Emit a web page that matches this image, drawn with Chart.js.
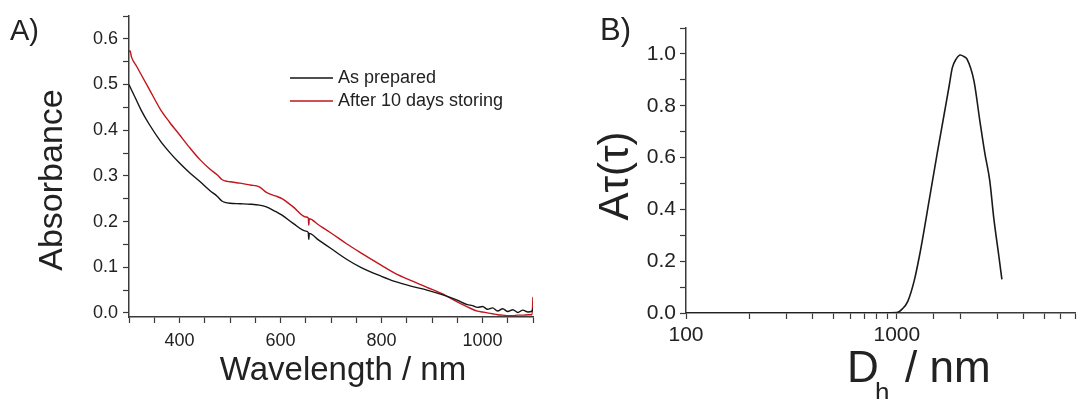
<!DOCTYPE html>
<html>
<head>
<meta charset="utf-8">
<script src="https://cdn.jsdelivr.net/npm/chart.js@4"></script>
<style>
    body { margin: 0; background: #fff; width: 1079px; height: 399px; overflow: hidden; position: relative; }
    canvas { position: absolute; top: 0; }
    #uvChart { left: 0; }
    #dlsChart { left: 540px; }
</style>
</head>
<body>
<canvas id="uvChart" width="540" height="399"></canvas>
<canvas id="dlsChart" width="539" height="399"></canvas>
<script>
// A) 흡광 스펙트럼 데이터
const wavelength = [300, 302, 305, 315, 324, 340, 363, 380, 400, 420, 441, 460, 475, 484, 490, 500, 520, 540, 558, 572, 590, 603, 625, 650, 655, 656, 657, 675, 700, 730, 760, 800, 826, 860, 890, 920, 950, 970, 980, 990, 1000, 1010, 1020, 1030, 1040, 1050, 1060, 1070, 1080, 1090, 1098, 1100];
const asPrepared = [0.500, 0.495, 0.488, 0.465, 0.444, 0.413, 0.375, 0.352, 0.328, 0.307, 0.287, 0.268, 0.255, 0.245, 0.242, 0.240, 0.239, 0.238, 0.236, 0.232, 0.222, 0.214, 0.196, 0.179, 0.176, 0.161, 0.174, 0.160, 0.141, 0.118, 0.099, 0.080, 0.069, 0.058, 0.050, 0.040, 0.028, 0.018, 0.016, 0.012, 0.014, 0.008, 0.011, 0.004, 0.009, 0.003, 0.007, 0.001, 0.006, 0.002, 0.004, 0.010];
const afterStoring = [0.571, 0.574, 0.560, 0.540, 0.522, 0.490, 0.444, 0.418, 0.390, 0.362, 0.335, 0.315, 0.302, 0.292, 0.289, 0.287, 0.284, 0.280, 0.276, 0.264, 0.256, 0.250, 0.232, 0.210, 0.208, 0.192, 0.206, 0.193, 0.175, 0.152, 0.131, 0.104, 0.087, 0.070, 0.056, 0.042, 0.024, 0.013, 0.008, 0.004, 0.002, 0.000, -0.002, -0.004, -0.005, -0.006, -0.006, -0.005, -0.005, -0.004, -0.004, 0.035];
const uvLabels = ['As prepared', 'After 10 days storing'];

// B) DLS 분포 데이터
const diameter = [100, 200, 400, 700, 1000, 1060, 1127, 1211, 1280, 1347, 1410, 1476, 1557, 1679, 1774, 1832, 1911, 2000, 2080, 2153, 2322, 2478, 2617, 2760, 2884, 3047, 3150];
const amplitude = [0, 0, 0, 0, 0.002, 0.015, 0.045, 0.127, 0.22, 0.32, 0.415, 0.51, 0.62, 0.77, 0.88, 0.946, 0.98, 0.996, 0.99, 0.98, 0.896, 0.74, 0.615, 0.51, 0.365, 0.22, 0.13];

const axisColor = '#3a3a3a';
const textColor = '#222';
const fontFamily = '"Liberation Sans", Arial, sans-serif';

function toPoints(xs, ys) {
    return xs.map((x, i) => ({ x: x, y: ys[i] }));
}

// 패널 라벨, 축 제목, 범례
const uvText = {
    id: 'uvText',
    afterDraw(chart) {
        const ctx = chart.ctx;
        ctx.save();
        ctx.fillStyle = textColor;
        ctx.textBaseline = 'alphabetic';
        ctx.font = '29px ' + fontFamily;
        ctx.textAlign = 'left';
        ctx.fillText('A)', 10, 40);

        ctx.font = '33px ' + fontFamily;
        ctx.textAlign = 'center';
        ctx.fillText('Wavelength / nm', 343, 380);

        ctx.save();
        ctx.translate(62, 180);
        ctx.rotate(-Math.PI / 2);
        ctx.font = '34px ' + fontFamily;
        ctx.fillText('Absorbance', 0, 0);
        ctx.restore();

        // 범례
        ctx.font = '18px ' + fontFamily;
        ctx.textAlign = 'left';
        ctx.textBaseline = 'middle';
        chart.data.datasets.forEach((ds, i) => {
            const y = 78 + i * 23;
            ctx.strokeStyle = ds.borderColor;
            ctx.lineWidth = 1.5;
            ctx.beginPath();
            ctx.moveTo(290, y);
            ctx.lineTo(333, y);
            ctx.stroke();
            ctx.fillStyle = textColor;
            ctx.fillText(ds.label, 338, y);
        });
        ctx.restore();
    }
};

const dlsText = {
    id: 'dlsText',
    afterDraw(chart) {
        const ctx = chart.ctx;
        ctx.save();
        ctx.fillStyle = textColor;
        ctx.textBaseline = 'alphabetic';
        ctx.textAlign = 'left';
        ctx.font = '31px ' + fontFamily;
        ctx.fillText('B)', 60, 40);

        ctx.font = '44px ' + fontFamily;
        ctx.fillText('D', 307, 382);
        ctx.font = '26px ' + fontFamily;
        ctx.fillText('h', 335, 401);
        ctx.font = '44px ' + fontFamily;
        ctx.fillText('/ nm', 365, 382);

        ctx.save();
        ctx.translate(88, 176);
        ctx.rotate(-Math.PI / 2);
        ctx.textAlign = 'center';
        ctx.font = '42px ' + fontFamily;
        ctx.fillText('Aτ(τ)', 0, 0);
        ctx.restore();
        ctx.restore();
    }
};

// 흡광 스펙트럼 차트
const uvChart = new Chart(document.getElementById('uvChart'), {
    type: 'line',
    data: {
        datasets: [
            {
                label: uvLabels[0],
                data: toPoints(wavelength, asPrepared),
                borderColor: '#151515',
                borderWidth: 1.4,
                pointRadius: 0,
                cubicInterpolationMode: 'monotone'
            },
            {
                label: uvLabels[1],
                data: toPoints(wavelength, afterStoring),
                borderColor: '#c0161c',
                borderWidth: 1.4,
                pointRadius: 0,
                cubicInterpolationMode: 'monotone'
            }
        ]
    },
    options: {
        responsive: false,
        animation: false,
        layout: { padding: { top: 16, right: 3, left: 0, bottom: 0 } },
        plugins: {
            legend: { display: false },
            tooltip: { enabled: false }
        },
        scales: {
            x: {
                type: 'linear',
                min: 300,
                max: 1100,
                afterFit: (scale) => { scale.height = 82; },
                ticks: {
                    stepSize: 50,
                    autoSkip: false,
                    maxRotation: 0,
                    includeBounds: false,
                    padding: 7,
                    color: textColor,
                    font: { family: fontFamily, size: 18 },
                    callback: (v) => (v % 200 === 0 && v > 300 && v < 1100) ? String(v) : ''
                },
                grid: { drawOnChartArea: false, tickLength: 6, tickColor: axisColor, tickWidth: 1.2 },
                border: { color: axisColor, width: 1.5 }
            },
            y: {
                min: -0.009,
                max: 0.65,
                afterFit: (scale) => { scale.width = 129; },
                ticks: {
                    stepSize: 0.05,
                    autoSkip: false,
                    includeBounds: false,
                    padding: 5,
                    color: textColor,
                    font: { family: fontFamily, size: 18 },
                    callback: (v) => Math.round(v * 100) % 10 === 0 ? v.toFixed(1) : ''
                },
                grid: { drawOnChartArea: false, tickLength: 6, tickColor: axisColor, tickWidth: 1.2 },
                border: { color: axisColor, width: 1.5 }
            }
        }
    },
    plugins: [uvText]
});

// DLS 분포 차트
const dlsChart = new Chart(document.getElementById('dlsChart'), {
    type: 'line',
    data: {
        datasets: [{
            label: 'Aτ(τ)',
            data: toPoints(diameter, amplitude),
            borderColor: '#1a1a1a',
            borderWidth: 1.6,
            pointRadius: 0,
            cubicInterpolationMode: 'monotone'
        }]
    },
    options: {
        responsive: false,
        animation: false,
        layout: { padding: { top: 28, right: 1, left: 0, bottom: 0 } },
        plugins: {
            legend: { display: false },
            tooltip: { enabled: false }
        },
        scales: {
            x: {
                type: 'logarithmic',
                min: 100,
                max: 7000,
                afterFit: (scale) => { scale.height = 86; },
                ticks: {
                    autoSkip: false,
                    maxRotation: 0,
                    padding: 4,
                    color: textColor,
                    font: { family: fontFamily, size: 21 },
                    callback: (v) => {
                        const p = Math.log10(v);
                        return Math.abs(p - Math.round(p)) < 1e-9 ? String(v) : '';
                    }
                },
                grid: { drawOnChartArea: false, tickLength: 6, tickColor: axisColor, tickWidth: 1.2 },
                border: { color: axisColor, width: 1.5 }
            },
            y: {
                min: 0,
                max: 1.1,
                afterFit: (scale) => { scale.width = 146; },
                ticks: {
                    stepSize: 0.1,
                    autoSkip: false,
                    padding: 4,
                    color: textColor,
                    font: { family: fontFamily, size: 21 },
                    callback: (v) => Math.round(v * 10) % 2 === 0 ? v.toFixed(1) : ''
                },
                grid: { drawOnChartArea: false, tickLength: 6, tickColor: axisColor, tickWidth: 1.2 },
                border: { color: axisColor, width: 1.5 }
            }
        }
    },
    plugins: [dlsText]
});
</script>
</body>
</html>
